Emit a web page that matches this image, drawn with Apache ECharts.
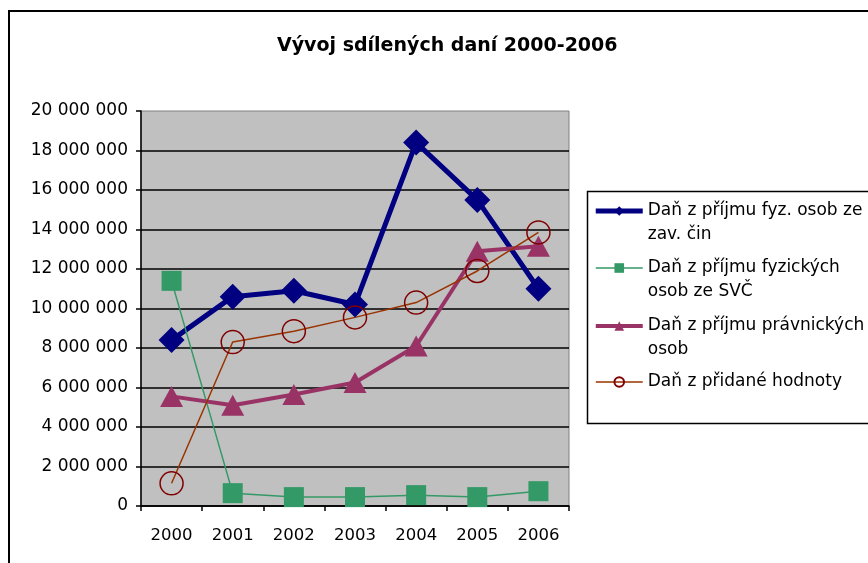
<!DOCTYPE html>
<html>
<head>
<meta charset="utf-8">
<script src="https://cdn.jsdelivr.net/npm/echarts@6/dist/echarts.min.js"></script>
<style>
html,body{margin:0;padding:0;background:#fff;}
#main{width:868px;height:563px;}
</style>
</head>
<body>
<div id="main"></div>
<script>
// ---- data ----
var titleText = 'Vývoj sdílených daní 2000-2006';
var categories = ['2000', '2001', '2002', '2003', '2004', '2005', '2006'];
var seriesNames = [
  'Daň z příjmu fyz. osob ze zav. čin',
  'Daň z příjmu fyzických osob ze SVČ',
  'Daň z příjmu právnických osob',
  'Daň z přidané hodnoty'
];
var legendLabels = [
  'Daň z příjmu fyz. osob ze\nzav. čin',
  'Daň z příjmu fyzických\nosob ze SVČ',
  'Daň z příjmu právnických\nosob',
  'Daň z přidané hodnoty'
];
var dpfoZavCin = [8400000, 10600000, 10900000, 10200000, 18400000, 15500000, 11000000];
var dpfoSvc = [11400000, 650000, 450000, 450000, 550000, 450000, 750000];
var dppo = [5550000, 5100000, 5650000, 6250000, 8100000, 12900000, 13150000];
var dph = [1150000, 8300000, 8850000, 9550000, 10300000, 11900000, 13850000];
var yMin = 0, yMax = 20000000, yStep = 2000000;

// ---- chart ----
var chart = echarts.init(document.getElementById('main'), null, {renderer: 'canvas'});
var FONT = 'DejaVu Sans';

function fmt(v) {
  return String(v).replace(/\B(?=(\d{3})+(?!\d))/g, ' ');
}

function legendFor(i, iconY, twoLine, lineWidth) {
  // two-line labels get an empty leading line so the icon sits on the first text line
  return {
    show: true,
    data: [seriesNames[i]],
    left: 595 - (lineWidth - 1.5) / 2,
    top: twoLine ? iconY - 36 : iconY - 12,
    padding: 0,
    itemWidth: 47,
    itemHeight: 12,
    lineStyle: {width: lineWidth},
    formatter: function () { return (twoLine ? '\n' : '') + legendLabels[i]; },
    textStyle: {
      fontFamily: FONT,
      fontSize: 17,
      color: '#000',
      lineHeight: 24
    }
  };
}

var option = {
  backgroundColor: '#fff',
  animation: false,
  title: {
    text: titleText,
    left: 272,
    top: 32,
    textStyle: {fontFamily: FONT, fontSize: 19, fontWeight: 'bold', color: '#000'}
  },
  graphic: [
    {type: 'rect', shape: {x: 9, y: 11, width: 900, height: 600},
     style: {fill: 'none', stroke: '#000', lineWidth: 2}, silent: true},
    {type: 'rect', shape: {x: 587.5, y: 191.5, width: 320, height: 232},
     style: {fill: 'none', stroke: '#000', lineWidth: 1.5}, silent: true}
  ],
  legend: [
    legendFor(0, 211, true, 5),
    legendFor(1, 268, true, 1.5),
    legendFor(2, 326, true, 4),
    legendFor(3, 382, false, 1.5)
  ],
  grid: {
    left: 141, top: 111, width: 428, height: 395,
    show: true, backgroundColor: '#c0c0c0', borderColor: '#808080', borderWidth: 1
  },
  xAxis: {
    type: 'category',
    data: categories,
    boundaryGap: true,
    axisLine: {lineStyle: {color: '#000', width: 1.5}},
    axisTick: {show: true, length: 5, alignWithLabel: false, lineStyle: {color: '#000', width: 1.5}},
    axisLabel: {fontFamily: FONT, fontSize: 16.5, color: '#000', margin: 21},
    splitLine: {show: false}
  },
  yAxis: {
    type: 'value',
    min: yMin, max: yMax, interval: yStep,
    axisLine: {show: true, lineStyle: {color: '#000', width: 1.5}},
    axisTick: {show: true, length: 5, lineStyle: {color: '#000', width: 1.5}},
    axisLabel: {fontFamily: FONT, fontSize: 17, color: '#000', margin: 13, formatter: fmt},
    splitLine: {show: true, showMaxLine: false, lineStyle: {color: '#000', width: 1.5}}
  },
  series: [
    {
      name: seriesNames[0], type: 'line', data: dpfoZavCin,
      symbol: 'diamond', symbolSize: 26,
      lineStyle: {color: '#000080', width: 5},
      itemStyle: {color: '#000080'}
    },
    {
      name: seriesNames[1], type: 'line', data: dpfoSvc,
      symbol: 'rect', symbolSize: 20,
      lineStyle: {color: '#339966', width: 1.5},
      itemStyle: {color: '#339966'}
    },
    {
      name: seriesNames[2], type: 'line', data: dppo,
      symbol: 'triangle', symbolSize: [23, 21],
      lineStyle: {color: '#993366', width: 4},
      itemStyle: {color: '#993366'}
    },
    {
      name: seriesNames[3], type: 'line', data: dph,
      symbol: 'circle', symbolSize: 23,
      lineStyle: {color: '#993300', width: 1.5},
      itemStyle: {color: 'rgba(0,0,0,0)', borderColor: '#800000', borderWidth: 1.5}
    }
  ]
};
chart.setOption(option);
</script>
</body>
</html>
